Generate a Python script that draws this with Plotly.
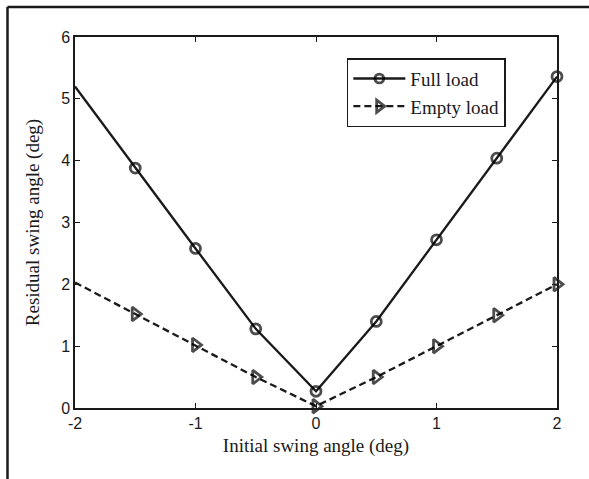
import plotly.graph_objects as go

x_vals = [-2, -1.5, -1, -0.5, 0, 0.5, 1, 1.5, 2]
full_load = [5.2, 3.88, 2.58, 1.28, 0.27, 1.4, 2.72, 4.04, 5.36]
empty_load = [2.03, 1.52, 1.02, 0.5, 0.03, 0.5, 1.0, 1.5, 2.0]
x_ticks = [-2, -1, 0, 1, 2]
y_ticks = [0, 1, 2, 3, 4, 5, 6]

marker_sizes = [0] + [10] * (len(x_vals) - 1)
tri_sizes = [0] + [12] * (len(x_vals) - 1)

INK = "#1a1a1a"
SERIF = "Liberation Serif, Times New Roman, serif"
SANS = "Liberation Sans, Arial, sans-serif"

fig = go.Figure()
fig.add_trace(go.Scatter(
    x=x_vals, y=full_load, name="Full load", mode="lines+markers",
    line=dict(color=INK, width=2.3),
    marker=dict(symbol="circle-open", size=marker_sizes, color="black",
                line=dict(width=2.8, color="black")),
    cliponaxis=False,
))
fig.add_trace(go.Scatter(
    x=x_vals, y=empty_load, name="Empty load", mode="lines+markers",
    line=dict(color=INK, width=2.3, dash="7px,4px"),
    marker=dict(symbol="triangle-right-open", size=tri_sizes, color="black",
                line=dict(width=2.8, color="black")),
    cliponaxis=False,
))

axis_common = dict(
    showgrid=False, zeroline=False, showline=True, linecolor=INK,
    linewidth=1.5, mirror="ticks", ticks="inside", ticklen=5,
    tickcolor=INK, tickwidth=1,
    tickfont=dict(family=SANS, size=16, color=INK),
)

fig.update_layout(
    width=589, height=479,
    paper_bgcolor="white", plot_bgcolor="white",
    margin=dict(l=75, r=32, t=37, b=71),
    showlegend=True,
    legend=dict(
        x=0.564, y=0.943, xanchor="left", yanchor="top",
        bordercolor=INK, borderwidth=1.5, bgcolor="white",
        font=dict(family=SERIF, size=19, color=INK),
        tracegroupgap=0, itemwidth=52,
    ),
    xaxis=dict(range=[-2, 2], tickvals=x_ticks, ticktext=[str(v) for v in x_ticks],
               title=dict(text="Initial swing angle (deg)", standoff=8,
                          font=dict(family=SERIF, size=19, color=INK)),
               **axis_common),
    yaxis=dict(range=[0, 6], tickvals=y_ticks, ticktext=[str(v) for v in y_ticks],
               title=dict(text="Residual swing angle (deg)", standoff=16,
                          font=dict(family=SERIF, size=19, color=INK)),
               **axis_common),
)

# outer frame (top, left)
fig.add_shape(type="line", xref="paper", yref="paper",
              x0=-(75 - 7.5) / 482, x1=(589 - 75) / 482 + 0.01,
              y0=(408 - 7) / 371, y1=(408 - 7) / 371,
              line=dict(color=INK, width=2.5))
fig.add_shape(type="line", xref="paper", yref="paper",
              x0=-(75 - 7.5) / 482, x1=-(75 - 7.5) / 482,
              y0=(408 - 7) / 371, y1=-72 / 371,
              line=dict(color=INK, width=2.5))

fig.write_html("out.html", config={"displayModeBar": False},
               post_script="document.body.style.margin='0';")
